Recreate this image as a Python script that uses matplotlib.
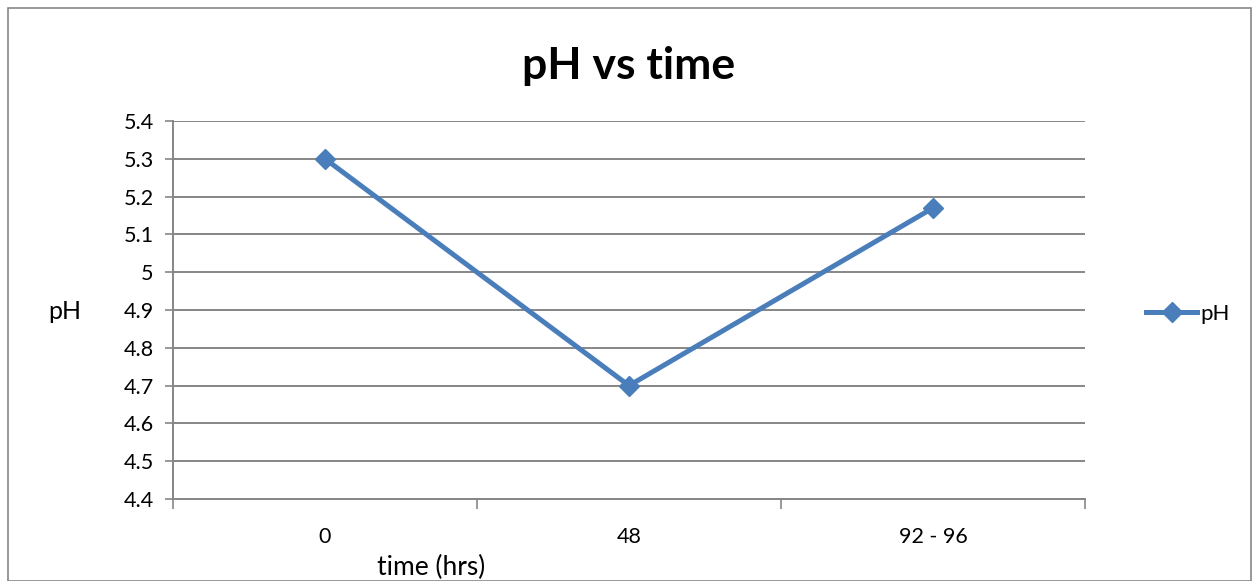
import numpy as np
import matplotlib.pyplot as plt
from matplotlib.patches import Rectangle

# data
times = ['0', '48', '92 - 96']
ph = [5.3, 4.7, 5.17]

blue = '#4A7EBB'
grey = '#868686'

plt.rcParams['font.family'] = ['Lato', 'DejaVu Sans']

fig = plt.figure(figsize=(12.59, 5.81), dpi=100)
ax = fig.add_axes([0.1374, 0.1411, 0.7244, 0.6506])

x = np.arange(len(times))
ax.plot(x, ph, color=blue, lw=3.6, marker='D', markersize=10, label='pH')

ax.set_xlim(-0.5, len(times) - 0.5)
ax.set_ylim(4.4, 5.4)
ax.set_yticks(np.arange(4.4, 5.41, 0.1))
ax.set_yticklabels(['4.4', '4.5', '4.6', '4.7', '4.8', '4.9', '5', '5.1', '5.2', '5.3', '5.4'])
ax.set_xticks(x)
ax.set_xticklabels(times)
ax.set_xticks(np.arange(-0.5, len(times)), minor=True)
ax.tick_params(axis='x', which='major', length=0, pad=20, labelsize=15.5)
ax.tick_params(axis='x', which='minor', length=7, width=1.2, color=grey, direction='out')
ax.tick_params(axis='y', length=6, width=1.2, color=grey, labelsize=15.5, pad=8)

ax.grid(axis='y', color=grey, lw=1.4)
ax.set_axisbelow(True)
for s in ['top', 'right']:
    ax.spines[s].set_visible(False)
for s in ['left', 'bottom']:
    ax.spines[s].set_color(grey)
    ax.spines[s].set_linewidth(1.4)

ax.set_title('pH vs time', fontsize=32, fontweight='bold', pad=30)
ax.set_xlabel('time (hrs)', fontsize=19, va='center')
ax.xaxis.set_label_coords(0.283, -0.18)
ax.set_ylabel('pH', fontsize=18, rotation=0, va='center')
ax.yaxis.set_label_coords(-0.119, 0.495)

ax.legend(loc='center left', bbox_to_anchor=(1.045, 0.49), frameon=False,
          fontsize=16, handlelength=2.3, handletextpad=0.15)

fig.patches.append(Rectangle((0.006, 0.0), 0.988, 0.986, transform=fig.transFigure,
                             fill=False, edgecolor=grey, lw=1.2))

fig.savefig('out.png', dpi=100)
